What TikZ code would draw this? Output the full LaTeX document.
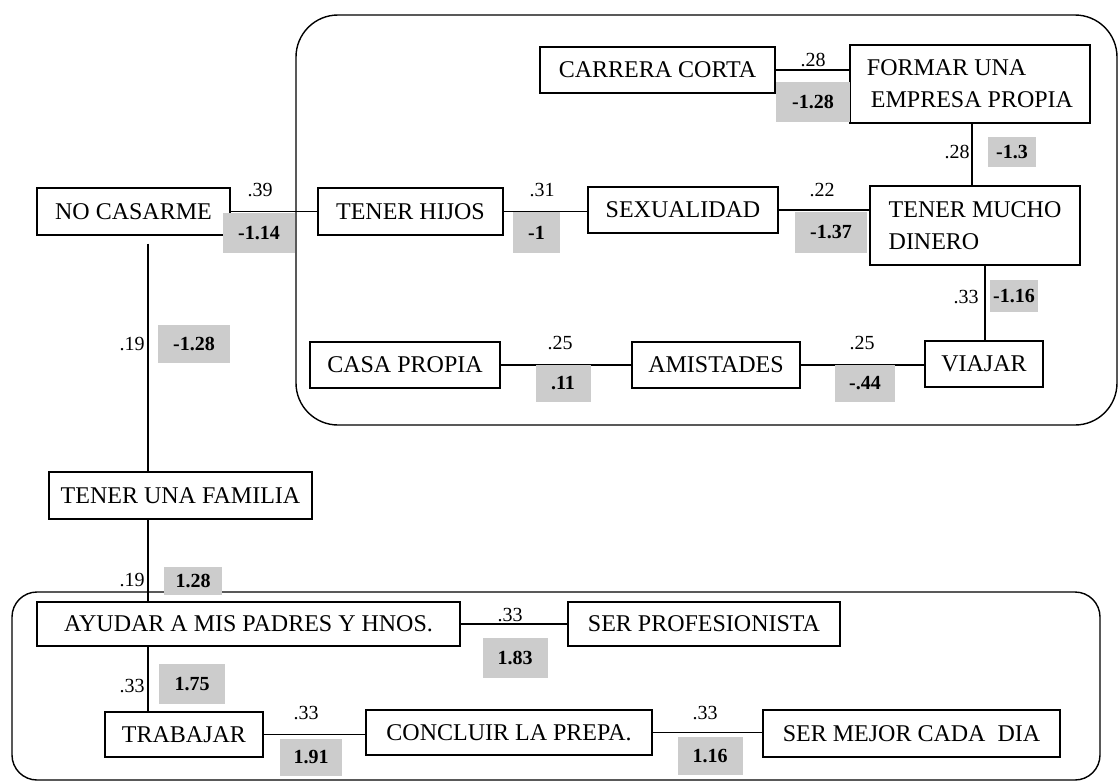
\documentclass[tikz,border=0pt]{standalone}
\usepackage{fontspec}
\setmainfont{Liberation Serif}
\begin{document}
\begin{tikzpicture}[x=1pt,y=-1pt,
  box/.style={draw, line width=1.4pt, inner sep=0pt, font=\fontsize{24}{32}\selectfont},
  num/.style={inner sep=0pt, font=\fontsize{20}{22}\selectfont},
  shd/.style={fill=black!20, inner sep=0pt, font=\bfseries\fontsize{20}{22}\selectfont},
  con/.style={line width=1.4pt},
  frame/.style={line width=1.4pt}]
\useasboundingbox (0,0) rectangle (1120,782);

% containers
\draw[frame, rounded corners=42pt] (296,15) rectangle (1117,425);
\draw[frame, rounded corners=25pt] (12,592) rectangle (1100,780);

% boxes
\node[box, minimum width=193pt, minimum height=47pt] (no) at (133.5,211.5) {NO CASARME};
\node[box, minimum width=185pt, minimum height=47pt] (hijos) at (410.5,211.5) {TENER HIJOS};
\node[box, minimum width=190pt, minimum height=46pt] (sex) at (683,210) {SEXUALIDAD};
\node[box, minimum width=210pt, minimum height=79pt, align=left] (dinero) at (975,225.5) {TENER MUCHO\\DINERO};
\node[box, minimum width=235pt, minimum height=46pt] (carrera) at (657.5,70) {CARRERA CORTA};
\node[box, minimum width=240pt, minimum height=78pt, align=left] (formar) at (970,84) {FORMAR UNA\\\hspace*{4pt}EMPRESA PROPIA};
\node[box, minimum width=190pt, minimum height=46pt] (casa) at (405,365) {CASA PROPIA};
\node[box, minimum width=168pt, minimum height=46pt] (amist) at (716,365) {AMISTADES};
\node[box, minimum width=118pt, minimum height=46pt] (viajar) at (984,364) {VIAJAR};
\node[box, minimum width=263pt, minimum height=47pt] (fam) at (180.5,495.5) {TENER UNA FAMILIA};
\node[box, minimum width=423pt, minimum height=44pt] (ayudar) at (248.5,624) {AYUDAR A MIS PADRES Y HNOS.};
\node[box, minimum width=272pt, minimum height=44pt] (prof) at (704,624) {SER PROFESIONISTA};
\node[box, minimum width=158pt, minimum height=45pt] (trab) at (184,734.5) {TRABAJAR};
\node[box, minimum width=286pt, minimum height=45pt] (concl) at (509,732.5) {CONCLUIR LA PREPA.};
\node[box, minimum width=297pt, minimum height=47pt] (mejor) at (911.5,733.5) {SER MEJOR CADA~~DIA};

% vertical line positions
\coordinate (v1) at (148,0);
\coordinate (v2) at (972,0);
\coordinate (v3) at (985,0);

% connectors
\draw[con] (no.east) -- (no.east -| hijos.west);
\draw[con] (hijos.east) -- (hijos.east -| sex.west);
\draw[con] (sex.east) -- (sex.east -| dinero.west);
\draw[con] (carrera.east) -- (carrera.east -| formar.west);
\draw[con] (formar.south -| v2) -- (dinero.north -| v2);
\draw[con] (dinero.south -| v3) -- (viajar.north -| v3);
\draw[con] (casa.east) -- (casa.east -| amist.west);
\draw[con] (amist.east) -- (amist.east -| viajar.west);
\draw[con, shorten <=8pt] (no.south -| v1) -- (fam.north -| v1);
\draw[con] (fam.south -| v1) -- (ayudar.north -| v1);
\draw[con] (ayudar.east) -- (ayudar.east -| prof.west);
\draw[con] (ayudar.south -| v1) -- (trab.north -| v1);
\draw[con] (trab.east) -- (trab.east -| concl.west);
\draw[con] (concl.east) -- (concl.east -| mejor.west);

% coefficient labels
\node[num] (l1) at (260,190) {.39};
\node[num] (l2) at (542,190) {.31};
\node[num] (l3) at (822,190) {.22};
\node[num] (l4) at (813,60) {.28};
\node[num] (l5) at (957,152) {.28};
\node[num] (l6) at (966,297) {.33};
\node[num] (l7) at (560,343) {.25};
\node[num] (l8) at (862,343) {.25};
\node[num] (l9) at (132,344) {.19};
\node[num] (l10) at (132,580) {.19};
\node[num] (l11) at (510,615) {.33};
\node[num] (l12) at (132,686) {.33};
\node[num] (l13) at (306,713) {.33};
\node[num] (l14) at (705,713) {.33};

% shaded values
\node[shd, minimum width=72pt, minimum height=40pt] (s1) at (259,233) {-1.14};
\node[shd, minimum width=47pt, minimum height=41pt] (s2) at (536.5,232.5) {-1};
\node[shd, minimum width=72pt, minimum height=41pt] (s3) at (831,232.5) {-1.37};
\node[shd, minimum width=74pt, minimum height=40pt] (s4) at (813,102) {-1.28};
\node[shd, minimum width=48pt, minimum height=30pt] (s5) at (1012,152) {-1.3};
\node[shd, minimum width=48pt, minimum height=32pt] (s6) at (1014,296) {-1.16};
\node[shd, minimum width=55pt, minimum height=37pt] (s7) at (563,383) {.11};
\node[shd, minimum width=60pt, minimum height=37pt] (s8) at (865,383) {-.44};
\node[shd, minimum width=72pt, minimum height=38pt] (s9) at (194,344) {-1.28};
\node[shd, minimum width=58pt, minimum height=28pt] (s10) at (193,581) {1.28};
\node[shd, minimum width=65pt, minimum height=40pt] (s11) at (515,658) {1.83};
\node[shd, minimum width=66pt, minimum height=40pt] (s12) at (192,684) {1.75};
\node[shd, minimum width=62pt, minimum height=37pt] (s13) at (311,757) {1.91};
\node[shd, minimum width=65pt, minimum height=38pt] (s14) at (710,756) {1.16};
\end{tikzpicture}
\end{document}
